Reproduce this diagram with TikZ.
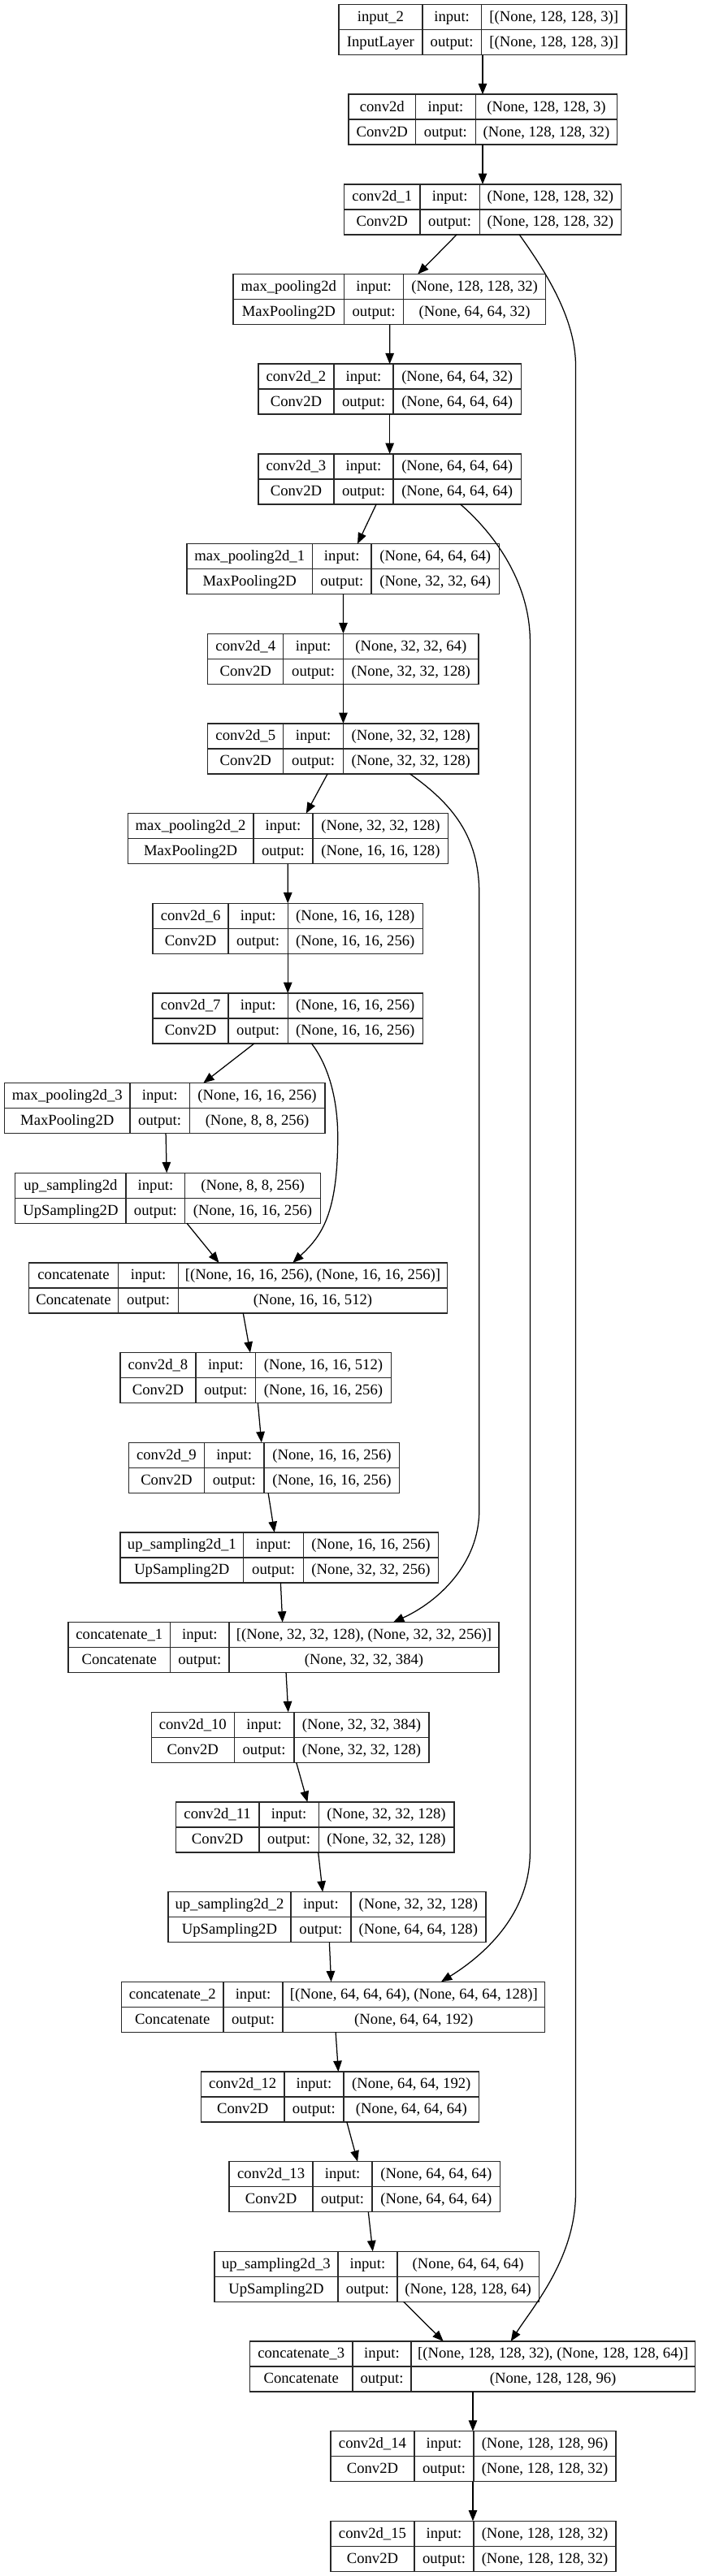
\documentclass[tikz,border=0pt]{standalone}
\usepackage{fontspec}
\setmainfont{Liberation Serif}
\usetikzlibrary{arrows.meta,calc}
\definecolor{boxc}{RGB}{40,40,40}
\tikzset{
  layerbox/.style={draw=boxc, line width=1.4pt, inner sep=0pt, outer sep=0pt, fill=white},
  cellline/.style={draw=boxc, line width=1.4pt},
  celltext/.style={anchor=base, inner sep=0pt, font=\fontsize{18.67pt}{20pt}\selectfont},
  edge/.style={line width=1.25pt, -{Triangle[length=13.3pt,width=10.5pt]}},
}
\newcommand\layer[9]{%
  \def\Lname{#1}\def\LL{#2}\def\LA{#3}\def\LB{#4}\def\LR{#5}\def\Lrank{#6}%
  \def\Ltxa{#7}\def\Ltxb{#8}\def\Ltxc{#9}\layerfinish}
\newcommand\layerfinish[1]{%
  \pgfmathsetmacro\LT{5.5+110.67*\Lrank}%
  \pgfmathsetmacro\Lcx{(\LL+\LR)/2}%
  \pgfmathsetmacro\Lcy{\LT+31}%
  \pgfmathsetmacro\Lw{(\LR-\LL)*0.9945}%
  \pgfmathsetmacro\Lb{\LT+62}%
  \pgfmathsetmacro\Xa{(\LL+\LA)/2}%
  \pgfmathsetmacro\Xb{(\LA+\LB)/2}%
  \pgfmathsetmacro\Xc{(\LB+\LR)/2}%
  \pgfmathsetmacro\Ya{\LT+21}%
  \pgfmathsetmacro\Yb{\LT+52}%
  \node[layerbox, minimum width=\Lw pt, minimum height=62pt] (\Lname) at (\Lcx,\Lcy) {};
  \draw[cellline] (\LA,\LT) -- (\LA,\Lb) (\LB,\LT) -- (\LB,\Lb) (\LL,\Lcy) -- (\LR,\Lcy);
  \node[celltext] (\Lname-n) at (\Xa,\Ya) {\Ltxa};
  \node[celltext] (\Lname-t) at (\Xa,\Yb) {\Ltxb};
  \node[celltext] (\Lname-i) at (\Xb,\Ya) {input:};
  \node[celltext] (\Lname-o) at (\Xb,\Yb) {output:};
  \node[celltext] (\Lname-iv) at (\Xc,\Ya) {\Ltxc};
  \node[celltext] (\Lname-ov) at (\Xc,\Yb) {#1};
}
% connector from source box (bottom, offset) to target box (top, offset)
\newcommand\conn[4]{\draw[edge] ($(#1.south west)+(#2,0)$) -- ($(#3.north west)+(#4,0)$);}
\begin{document}
\begin{tikzpicture}[x=0.9945pt,y=-1pt]
\fill[white] (0,0) rectangle (867.8,3172);
\useasboundingbox (0,0) rectangle (867.8,3172);

\layer{b0}{419.2}{522.7}{595.7}{775.4}{0}{input\_2}{InputLayer}{[(None, 128, 128, 3)]}{[(None, 128, 128, 3)]}
\layer{b1}{431.4}{514.4}{588.5}{763.8}{1}{conv2d}{Conv2D}{(None, 128, 128, 3)}{(None, 128, 128, 32)}
\layer{b2}{425.9}{519.9}{593.5}{768.8}{2}{conv2d\_1}{Conv2D}{(None, 128, 128, 32)}{(None, 128, 128, 32)}
\layer{b3}{288.7}{425.9}{499.4}{675.3}{3}{max\_pooling2d}{MaxPooling2D}{(None, 128, 128, 32)}{(None, 64, 64, 32)}
\layer{b4}{319.7}{413.2}{486.7}{644.9}{4}{conv2d\_2}{Conv2D}{(None, 64, 64, 32)}{(None, 64, 64, 64)}
\layer{b5}{319.7}{413.2}{486.7}{644.9}{5}{conv2d\_3}{Conv2D}{(None, 64, 64, 64)}{(None, 64, 64, 64)}
\layer{b6}{231.2}{386.6}{459.6}{617.8}{6}{max\_pooling2d\_1}{MaxPooling2D}{(None, 64, 64, 64)}{(None, 32, 32, 64)}
\layer{b7}{257.2}{350.7}{424.8}{592.4}{7}{conv2d\_4}{Conv2D}{(None, 32, 32, 64)}{(None, 32, 32, 128)}
\layer{b8}{257.2}{350.7}{424.8}{592.4}{8}{conv2d\_5}{Conv2D}{(None, 32, 32, 128)}{(None, 32, 32, 128)}
\layer{b9}{158.2}{313.6}{387.2}{554.8}{9}{max\_pooling2d\_2}{MaxPooling2D}{(None, 32, 32, 128)}{(None, 16, 16, 128)}
\layer{b10}{189.2}{282.6}{356.2}{523.2}{10}{conv2d\_6}{Conv2D}{(None, 16, 16, 128)}{(None, 16, 16, 256)}
\layer{b11}{189.2}{282.6}{356.2}{523.2}{11}{conv2d\_7}{Conv2D}{(None, 16, 16, 256)}{(None, 16, 16, 256)}
\layer{b12}{5.5}{161}{234.5}{402.1}{12}{max\_pooling2d\_3}{MaxPooling2D}{(None, 16, 16, 256)}{(None, 8, 8, 256)}
\layer{b13}{18.8}{156}{229}{396.6}{13}{up\_sampling2d}{UpSampling2D}{(None, 8, 8, 256)}{(None, 16, 16, 256)}
\layer{b14}{35.4}{146.6}{220.7}{553.6}{14}{concatenate}{Concatenate}{[(None, 16, 16, 256), (None, 16, 16, 256)]}{(None, 16, 16, 512)}
\layer{b15}{148.8}{242.3}{316.4}{484}{15}{conv2d\_8}{Conv2D}{(None, 16, 16, 512)}{(None, 16, 16, 256)}
\layer{b16}{159.3}{252.8}{326.9}{494.5}{16}{conv2d\_9}{Conv2D}{(None, 16, 16, 256)}{(None, 16, 16, 256)}
\layer{b17}{148.8}{301.4}{375.6}{542.6}{17}{up\_sampling2d\_1}{UpSampling2D}{(None, 16, 16, 256)}{(None, 32, 32, 256)}
\layer{b18}{84.6}{210.7}{283.7}{617.3}{18}{concatenate\_1}{Concatenate}{[(None, 32, 32, 128), (None, 32, 32, 256)]}{(None, 32, 32, 384)}
\layer{b19}{187.5}{289.8}{364}{531}{19}{conv2d\_10}{Conv2D}{(None, 32, 32, 384)}{(None, 32, 32, 128)}
\layer{b20}{217.4}{320.8}{394.4}{562}{20}{conv2d\_11}{Conv2D}{(None, 32, 32, 128)}{(None, 32, 32, 128)}
\layer{b21}{208}{360}{434.2}{601.2}{21}{up\_sampling2d\_2}{UpSampling2D}{(None, 32, 32, 128)}{(None, 64, 64, 128)}
\layer{b22}{150.4}{276.5}{350.1}{674.2}{22}{concatenate\_2}{Concatenate}{[(None, 64, 64, 64), (None, 64, 64, 128)]}{(None, 64, 64, 192)}
\layer{b23}{248.9}{351.8}{425.3}{592.9}{23}{conv2d\_12}{Conv2D}{(None, 64, 64, 192)}{(None, 64, 64, 64)}
\layer{b24}{283.7}{387.2}{460.7}{618.9}{24}{conv2d\_13}{Conv2D}{(None, 64, 64, 64)}{(None, 64, 64, 64)}
\layer{b25}{265.5}{418.1}{491.7}{667}{25}{up\_sampling2d\_3}{UpSampling2D}{(None, 64, 64, 64)}{(None, 128, 128, 64)}
\layer{b26}{309.2}{436.4}{508.8}{860}{26}{concatenate\_3}{Concatenate}{[(None, 128, 128, 32), (None, 128, 128, 64)]}{(None, 128, 128, 96)}
\layer{b27}{409.3}{512.7}{586.3}{762.2}{27}{conv2d\_14}{Conv2D}{(None, 128, 128, 96)}{(None, 128, 128, 32)}
\layer{b28}{409.3}{512.7}{586.3}{762.2}{28}{conv2d\_15}{Conv2D}{(None, 128, 128, 32)}{(None, 128, 128, 32)}

% straight / short edges
\conn{b0}{178.1}{b1}{165.9}
\conn{b1}{165.9}{b2}{171.4}
\conn{b2}{139.4}{b3}{228.4}
\conn{b3}{193.6}{b4}{162.6}
\conn{b4}{162.6}{b5}{162.6}
\conn{b5}{146}{b6}{211.3}
\conn{b6}{193.6}{b7}{167.6}
\conn{b7}{167.6}{b8}{167.6}
\conn{b8}{148.2}{b9}{220.7}
\conn{b9}{198}{b10}{167}
\conn{b10}{167}{b11}{167}
\conn{b11}{125.5}{b12}{246.2}
\conn{b12}{199.7}{b13}{187.5}
\conn{b13}{212.4}{b14}{235.6}
\conn{b14}{265.5}{b15}{160.9}
\conn{b15}{170.3}{b16}{164.3}
\conn{b16}{172.6}{b17}{190.8}
\conn{b17}{198.5}{b18}{265}
\conn{b18}{269.4}{b19}{169.2}
\conn{b19}{179.2}{b20}{163.1}
\conn{b20}{176.4}{b21}{191.3}
\conn{b21}{199.6}{b22}{259.4}
\conn{b22}{265}{b23}{169.8}
\conn{b23}{180.3}{b24}{158.8}
\conn{b24}{172.1}{b25}{195.8}
\conn{b25}{233.9}{b26}{239.5}
\conn{b26}{276}{b27}{175.9}
\conn{b27}{175.9}{b28}{175.9}

% skip connections
\draw[edge] ($(b2.south west)+(216.8,0)$) .. controls (672,330) and (712.4,390) .. (712.4,450)
  -- (712.4,2700) .. controls (712.4,2780) and (660,2840) .. ($(b26.north west)+(323,0)$);
\draw[edge] ($(b5.south west)+(250,0)$) .. controls (615,660) and (656,720) .. (656,790)
  -- (656,2280) .. controls (656,2360) and (595,2410) .. ($(b22.north west)+(395.6,0)$);
\draw[edge] ($(b8.south west)+(250,0)$) .. controls (560,990) and (593,1030) .. (593,1100)
  -- (593,1860) .. controls (593,1925) and (543,1972) .. ($(b18.north west)+(402.1,0)$);
\draw[edge] ($(b11.south west)+(196.3,0)$) .. controls (405,1310) and (418,1350) .. (418,1400)
  .. controls (418,1495) and (398,1522) .. ($(b14.north west)+(326.9,0)$);
\end{tikzpicture}
\end{document}
